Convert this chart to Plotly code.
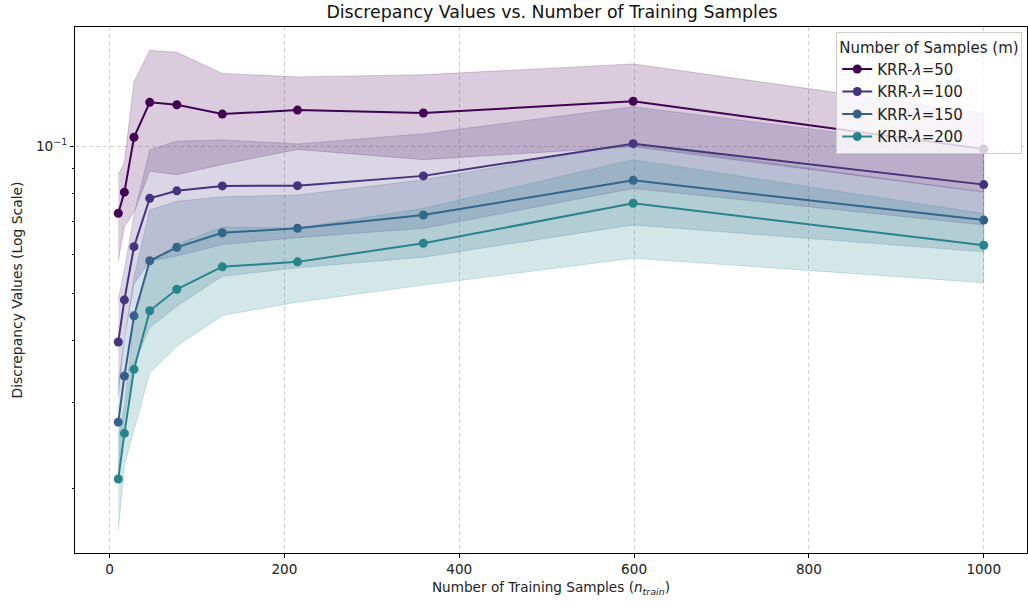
import plotly.graph_objects as go

# Data
n_train = [10, 17, 28, 46, 77, 129, 215, 359, 599, 1000]
labels = ["KRR-<i>λ</i>=50", "KRR-<i>λ</i>=100", "KRR-<i>λ</i>=150", "KRR-<i>λ</i>=200"]

mean_50 = [0.0729, 0.0805, 0.1042, 0.1228, 0.1214, 0.1162, 0.1184, 0.1168, 0.1234, 0.0986]
std_50 = [0.0146, 0.0120, 0.0310, 0.0340, 0.0340, 0.0245, 0.0200, 0.0230, 0.0237, 0.0180]

mean_100 = [0.0398, 0.0485, 0.0623, 0.0782, 0.0810, 0.0829, 0.0830, 0.0869, 0.1011, 0.0834]
std_100 = [0.0088, 0.0075, 0.0100, 0.0200, 0.0214, 0.0200, 0.0180, 0.0190, 0.0192, 0.0144]

mean_150 = [0.0273, 0.0339, 0.0450, 0.0583, 0.0621, 0.0665, 0.0679, 0.0723, 0.0851, 0.0706]
std_150 = [0.0055, 0.0060, 0.0090, 0.0157, 0.0150, 0.0123, 0.0115, 0.0130, 0.0161, 0.0098]

mean_200 = [0.0209, 0.0259, 0.0350, 0.0461, 0.0510, 0.0567, 0.0580, 0.0633, 0.0764, 0.0627]
std_200 = [0.0045, 0.0036, 0.0088, 0.0117, 0.0120, 0.0116, 0.0100, 0.0113, 0.0174, 0.0101]

colors = ["#440154", "#46337e", "#355f8d", "#25858e"]
fills = ["rgba(68,1,84,0.2)", "rgba(70,51,126,0.2)", "rgba(53,95,141,0.2)", "rgba(37,133,142,0.2)"]

means = [mean_50, mean_100, mean_150, mean_200]
stds = [std_50, std_100, std_150, std_200]

fig = go.Figure()
for lab, m, s, c, fc in zip(labels, means, stds, colors, fills):
    upper = [a + b for a, b in zip(m, s)]
    lower = [a - b for a, b in zip(m, s)]
    fig.add_trace(go.Scatter(
        x=n_train, y=m, mode="lines+markers", name=lab,
        line=dict(color=c, width=2), marker=dict(color=c, size=9),
    ))
    fig.add_trace(go.Scatter(
        x=n_train + n_train[::-1], y=upper + lower[::-1],
        fill="toself", fillcolor=fc, mode="lines",
        line=dict(color=fc, width=1), showlegend=False, hoverinfo="skip",
    ))

font = "DejaVu Sans"
grid = "rgba(176,176,176,0.6)"
fig.update_layout(
    width=1028, height=609,
    margin=dict(l=75, r=1, t=27, b=56, autoexpand=False),
    paper_bgcolor="white", plot_bgcolor="white",
    font=dict(family=font, size=13.6, color="#222"),
    title=dict(text="Discrepancy Values vs. Number of Training Samples",
               x=0.537, xref="container", xanchor="center", y=0.981, yanchor="middle",
               font=dict(size=17.4, color="#111")),
    legend=dict(
        title=dict(text="Number of Samples (m)", font=dict(size=15)),
        x=0.995, y=0.99, xanchor="right", yanchor="top",
        bgcolor="rgba(255,255,255,0.8)", bordercolor="#cccccc", borderwidth=1,
        font=dict(size=15), entrywidth=150, entrywidthmode="pixels",
    ),
    showlegend=True,
)
fig.update_xaxes(
    range=[-39.5, 1049.5], tickvals=[0, 200, 400, 600, 800, 1000],
    showline=True, linecolor="black", linewidth=1, mirror=True,
    ticks="outside", ticklen=4, tickcolor="black",
    showgrid=True, gridcolor=grid, griddash="4px,3px", gridwidth=1,
    zeroline=False, tickfont=dict(size=13.6),
    title=dict(text="Number of Training Samples (<i>n</i><sub><i>train</i></sub>)",
               standoff=6, font=dict(size=13.6)),
)
fig.update_yaxes(
    type="log", range=[-1.831, -0.757],
    tickvals=[0.1], ticktext=["10<sup>−1</sup>"],
    showline=True, linecolor="black", linewidth=1, mirror=True,
    ticks="outside", ticklen=4, tickcolor="black",
    showgrid=True, gridcolor=grid, griddash="4px,3px", gridwidth=1,
    zeroline=False, tickfont=dict(size=13.6),
    minor=dict(tickvals=[0.02, 0.03, 0.04, 0.05, 0.06, 0.07, 0.08, 0.09],
               ticks="outside", ticklen=2, tickcolor="black", showgrid=False),
    title=dict(text="Discrepancy Values (Log Scale)", standoff=10, font=dict(size=13.9)),
)

fig.write_html("out.html", config={"displayModeBar": False},
               post_script="document.body.style.margin='0';")
